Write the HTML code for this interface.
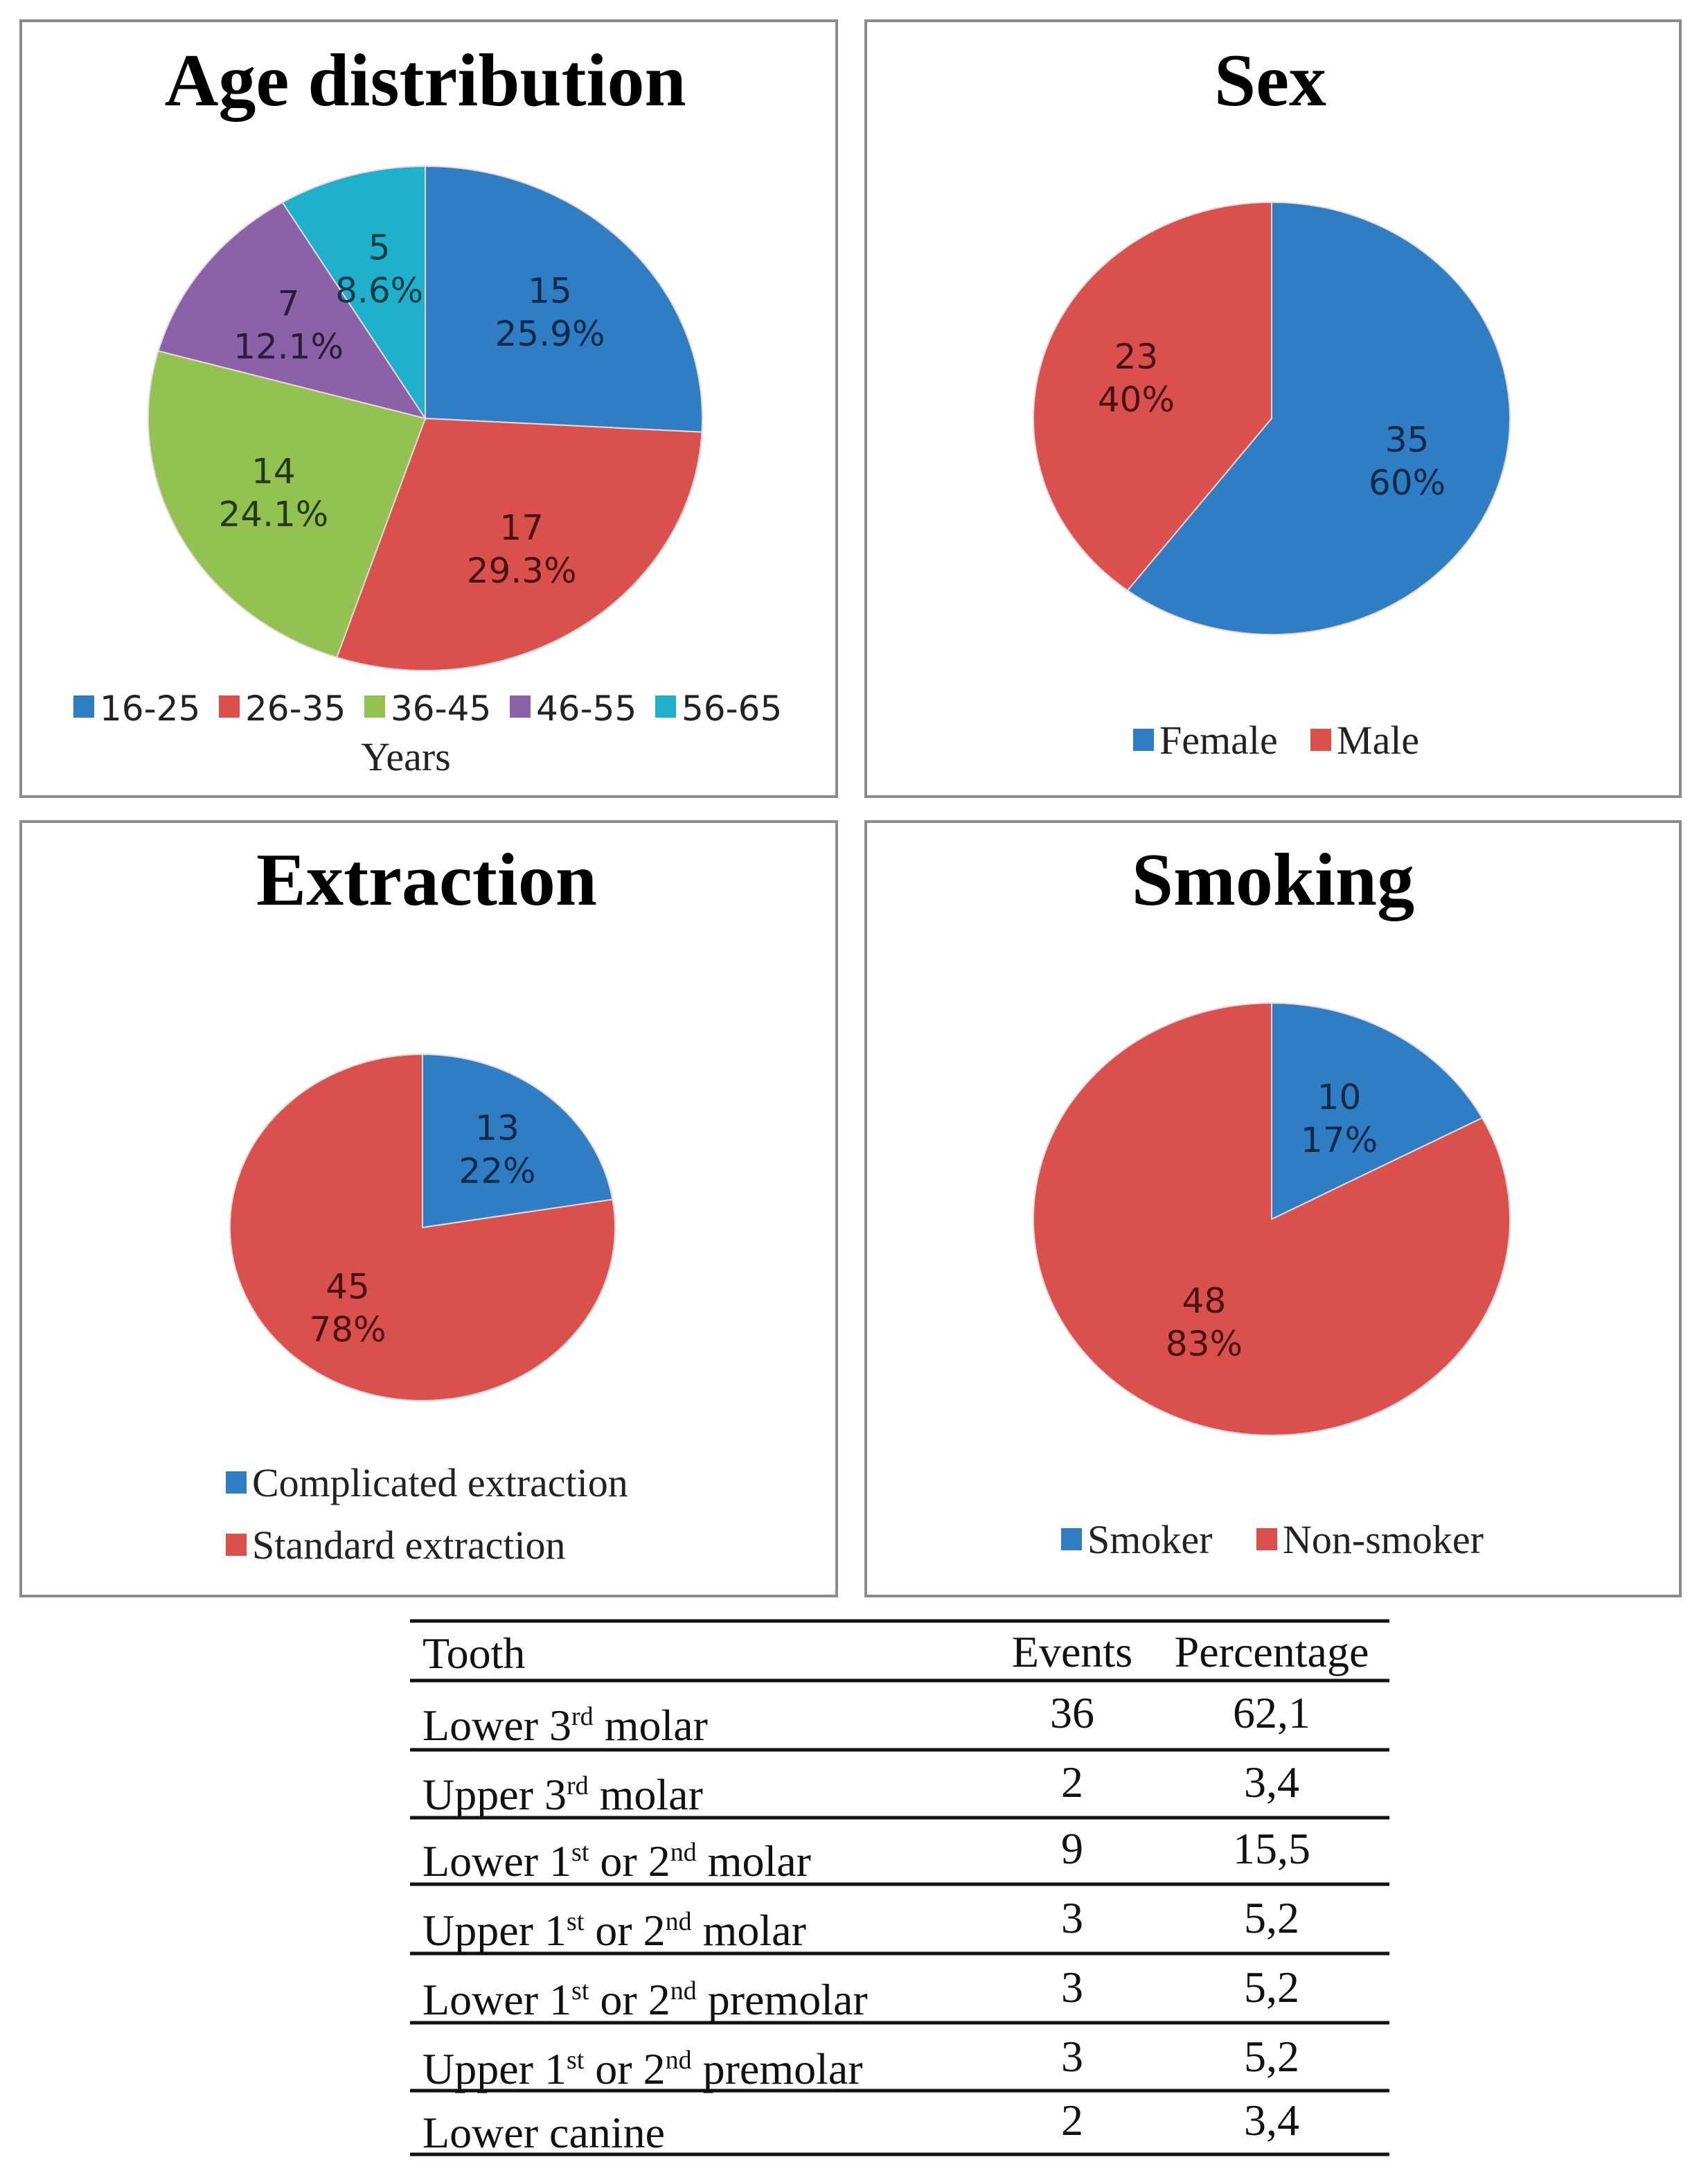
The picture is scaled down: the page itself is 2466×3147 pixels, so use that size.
<!DOCTYPE html>
<html><head><meta charset="utf-8"><style>
html,body{margin:0;padding:0;background:#fff;}
svg{display:block;}
.title{font-family:"Liberation Serif",serif;font-weight:bold;font-size:108px;text-anchor:middle;fill:#000;}
.lbl{font-family:"DejaVu Sans",sans-serif;font-size:50px;text-anchor:middle;}
.leg{font-family:"Liberation Serif",serif;font-size:58px;fill:#222;}
.legd{font-family:"DejaVu Sans",sans-serif;font-size:50px;fill:#222;}
.tb{font-family:"Liberation Serif",serif;font-size:64px;fill:#111;}
.sup{font-size:38px;}
</style></head><body>
<svg id="root" width="2466" height="3147" viewBox="0 0 2466 3147" xmlns="http://www.w3.org/2000/svg">
<g fill="none" stroke="#8a8a8a" stroke-width="4">
<rect x="30" y="30" width="1178" height="1120"/>
<rect x="1250" y="30" width="1176" height="1120"/>
<rect x="30" y="1186" width="1178" height="1118"/>
<rect x="1250" y="1186" width="1176" height="1118"/>
</g>
<text class="title" x="614" y="152">Age distribution</text>
<text class="title" x="1834" y="152">Sex</text>
<text class="title" x="616" y="1306">Extraction</text>
<text class="title" x="1838" y="1306">Smoking</text>
<g id="pies"></g>
<g id="table"></g>
</svg>
<script>
const ageCats = ["16-25","26-35","36-45","46-55","56-65"];
const ageVals = [15,17,14,7,5];
const agePcts = ["25.9%","29.3%","24.1%","12.1%","8.6%"];
const sexCats = ["Female","Male"];
const sexVals = [35,23];
const sexPcts = ["60%","40%"];
const extCats = ["Complicated extraction","Standard extraction"];
const extVals = [13,45];
const extPcts = ["22%","78%"];
const smkCats = ["Smoker","Non-smoker"];
const smkVals = [10,48];
const smkPcts = ["17%","83%"];
const toothNames = [["Lower 3","rd"," molar"],["Upper 3","rd"," molar"],["Lower 1","st"," or 2","nd"," molar"],["Upper 1","st"," or 2","nd"," molar"],["Lower 1","st"," or 2","nd"," premolar"],["Upper 1","st"," or 2","nd"," premolar"],["Lower canine"]];
const toothEvents = [36,2,9,3,3,3,2];
const toothPcts = ["62,1","3,4","15,5","5,2","5,2","5,2","3,4"];

const NS="http://www.w3.org/2000/svg";
const fills=["#2f7dc2","#d9504d","#93c152","#8b62a8","#1fb1cb"];
const txtc=["#0d2a4a","#4a1212","#253a10","#2b1a3a","#0a3a45"];
function mk(tag,attrs,parent){const e=document.createElementNS(NS,tag);for(const k in attrs)e.setAttribute(k,attrs[k]);parent.appendChild(e);return e;}
const pies=document.getElementById('pies');

function pie(name,cats,vals,pcts,cx,cy,rx,ry,lf){
  const g=mk('g',{},pies);
  
  
  const tot=vals.reduce((a,b)=>a+b,0);
  let cum=0;
  vals.forEach((v,i)=>{
    const a0=cum/tot*2*Math.PI, a1=(cum+v)/tot*2*Math.PI; cum+=v;
    const x0=cx+rx*Math.sin(a0), y0=cy-ry*Math.cos(a0), x1=cx+rx*Math.sin(a1), y1=cy-ry*Math.cos(a1);
    const large=(a1-a0)>Math.PI?1:0;
    const p=mk('path',{d:`M${cx},${cy} L${x0},${y0} A${rx},${ry} 0 ${large} 1 ${x1},${y1} Z`,fill:fills[i],stroke:"#e8d8d8","stroke-width":2},g);
    
    
    const am=(a0+a1)/2, lx=cx+lf*rx*Math.sin(am), ly=cy-lf*ry*Math.cos(am);
    const t=mk('text',{class:'lbl',x:lx,y:ly-12,fill:txtc[i]},g);
    t.textContent=String(v);
    
    
    const t2=mk('text',{class:'lbl',x:lx,y:ly+50,fill:txtc[i]},g);
    t2.textContent=pcts[i];
    
    
  });
  return g;
}
function legendItem(g,x,y,i,label,cls){
  const r=mk('rect',{x:x,y:y-36,width:30,height:32,fill:fills[i]},g);
  
  
  const t=mk('text',{class:cls||'leg',x:x+38,y:y},g);
  t.textContent=label;
  
  
}
const g1=pie('age',ageCats,ageVals,agePcts,614,604,400,364,0.62);
ageCats.forEach((c,i)=>legendItem(g1,106+i*210,1040,i,c,'legd'));
const yt=mk('text',{class:'leg',x:586,y:1112,'text-anchor':'middle'},g1);
yt.textContent='Years';


const g2=pie('sex',sexCats,sexVals,sexPcts,1836,604,344,312,0.6);
legendItem(g2,1636,1088,0,sexCats[0]);legendItem(g2,1892,1088,1,sexCats[1]);
const g3=pie('extraction',extCats,extVals,extPcts,610,1772,278,250,0.6);
legendItem(g3,326,2160,0,extCats[0]);legendItem(g3,326,2250,1,extCats[1]);
const g4=pie('smoking',smkCats,smkVals,smkPcts,1836,1760,344,312,0.55);
legendItem(g4,1532,2242,0,smkCats[0]);legendItem(g4,1814,2242,1,smkCats[1]);

const tb=document.getElementById('table');
const lines=[2340,2426,2526,2624,2720,2820,2920,3018,3110];
lines.forEach(y=>{const l=mk('line',{x1:592,x2:2006,y1:y,y2:y,stroke:'#111','stroke-width':5},tb);
  
  });
function cell(x,y,txt,anchor,name){const t=mk('text',{class:'tb',x:x,y:y,'text-anchor':anchor},tb);t.textContent=txt;
  
  return t;}
cell(610,2408,'Tooth','start','header-tooth');
cell(1548,2406,'Events','middle','header-events');
cell(1836,2406,'Percentage','middle','header-percentage');
const rowY=[2504,2604,2700,2800,2900,3000,3092];
toothNames.forEach((parts,i)=>{
  const t=mk('text',{class:'tb',x:610,y:rowY[i]+8},tb);
  
  
  parts.forEach((p,j)=>{const s=mk('tspan',{},t);s.textContent=p;
    if(j%2===1){s.setAttribute('class','sup');s.setAttribute('dy','-22');}
    else if(j>0){s.setAttribute('dy','22');}});
  cell(1548,rowY[i]-10,String(toothEvents[i]),'middle','events-value');
  cell(1836,rowY[i]-10,toothPcts[i],'middle','percentage-value');
});
</script>
</body></html>
